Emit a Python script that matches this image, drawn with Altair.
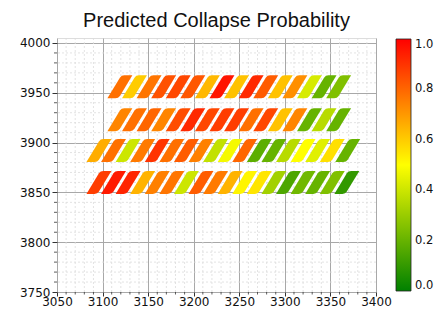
import altair as alt
import pandas as pd

title_text = "Predicted Collapse Probability"

# row centre heights (data units)
row_y = [3956, 3923, 3892, 3860]

row1_x = [3119, 3135, 3151, 3167, 3183, 3199, 3215, 3231, 3247, 3263, 3279, 3295, 3311, 3327, 3343, 3359]
row1_p = [0.78, 0.60, 0.77, 0.84, 0.86, 0.83, 0.64, 0.96, 0.62, 0.92, 0.82, 0.62, 0.72, 0.42, 0.20, 0.25]

row2_x = [3119, 3135, 3151, 3167, 3183, 3199, 3215, 3231, 3247, 3263, 3279, 3295, 3311, 3327, 3343, 3359]
row2_p = [0.74, 0.78, 0.80, 0.74, 0.85, 0.92, 0.86, 0.88, 0.88, 0.78, 0.86, 0.62, 0.74, 0.20, 0.36, 0.20]

row3_x = [3096, 3112, 3128, 3144, 3160, 3176, 3192, 3208, 3224, 3240, 3256, 3272, 3288, 3304, 3320, 3336, 3352, 3369]
row3_p = [0.66, 0.78, 0.40, 0.76, 0.90, 0.78, 0.82, 0.75, 0.38, 0.48, 0.80, 0.18, 0.20, 0.36, 0.50, 0.44, 0.56, 0.20]

row4_x = [3096, 3112, 3128, 3144, 3160, 3176, 3192, 3208, 3224, 3240, 3256, 3272, 3288, 3304, 3320, 3336, 3352, 3368]
row4_p = [0.88, 0.95, 0.93, 0.65, 0.75, 0.77, 0.40, 0.82, 0.76, 0.65, 0.52, 0.55, 0.32, 0.15, 0.22, 0.20, 0.25, 0.10]

x_ticks = [3050, 3100, 3150, 3200, 3250, 3300, 3350, 3400]
y_ticks = [3750, 3800, 3850, 3900, 3950, 4000]
x_minor = [v for v in range(3060, 3400, 10) if v % 50 != 0]
y_minor = [v for v in range(3760, 4005, 10) if v % 50 != 0]
cbar_ticks = [0.0, 0.2, 0.4, 0.6, 0.8, 1.0]

rows = []
for yy, xs, ps in zip(row_y, [row1_x, row2_x, row3_x, row4_x], [row1_p, row2_p, row3_p, row4_p]):
    for xx, pp in zip(xs, ps):
        rows.append({"x": xx, "y": yy, "p": pp})
df = pd.DataFrame(rows)

W, H = 319, 254
xscale = alt.Scale(domain=[3050, 3400], nice=False, zero=False)
yscale = alt.Scale(domain=[3750, 4005], nice=False, zero=False)

FONT = "DejaVu Sans"
SHAPE = ("M -0.96 0.885 L -0.34 0.885 Q -0.114 0.885 0.0 0.7 L 0.96 -0.885 "
         "L 0.34 -0.885 Q 0.114 -0.885 0.0 -0.7 Z")

x_axis = alt.Axis(values=x_ticks, format="d", grid=True, gridColor="#a8a8a8",
                  gridWidth=1, tickSize=4, tickColor="#333333", domain=False,
                  labelFont=FONT, labelFontSize=12, labelColor="#111111",
                  labelPadding=0, labelFlush=False)
y_axis = alt.Axis(values=y_ticks, format="d", grid=True, gridColor="#a8a8a8",
                  gridWidth=1, tickSize=5, tickColor="#333333", domain=False,
                  labelFont=FONT, labelFontSize=12, labelColor="#111111",
                  labelPadding=2, labelFlush=False)

X = lambda f: alt.X(f, scale=xscale, title=None, axis=x_axis)
Y = lambda f: alt.Y(f, scale=yscale, title=None, axis=y_axis)

minor_x = alt.Chart(pd.DataFrame({"v": x_minor})).mark_rule(
    color="#dcdcdc", strokeWidth=0.8, strokeDash=[2, 2]
).encode(x=X("v:Q"))

minor_y = alt.Chart(pd.DataFrame({"v": y_minor})).mark_rule(
    color="#dcdcdc", strokeWidth=0.8, strokeDash=[2, 2]
).encode(y=Y("v:Q"))

tick_x = alt.Chart(pd.DataFrame({"v": x_minor})).mark_rule(
    color="#333333", strokeWidth=0.8
).encode(x=X("v:Q"), y=alt.value(H), y2=alt.value(H + 2.5))

tick_y = alt.Chart(pd.DataFrame({"v": y_minor})).mark_rule(
    color="#333333", strokeWidth=0.8
).encode(y=Y("v:Q"), x=alt.value(0), x2=alt.value(-3))

shapes = alt.Chart(df).mark_point(shape=SHAPE, filled=True, size=676, opacity=1).encode(
    x=X("x:Q"),
    y=Y("y:Q"),
    color=alt.Color("p:Q",
                    scale=alt.Scale(domain=[0, 0.5, 1], range=["#008000", "#ffff00", "#ff0000"],
                                    interpolate="rgb"),
                    legend=alt.Legend(title=None, orient="none", legendX=W + 20, legendY=1,
                                      direction="vertical", gradientLength=252,
                                      gradientThickness=15, values=cbar_ticks, format=".1f",
                                      labelFont=FONT, labelFontSize=11.5, labelColor="#111111",
                                      labelOffset=4, labelBaseline="middle",
                                      gradientStrokeColor="#222222", gradientStrokeWidth=0.8)),
)

chart = alt.layer(minor_x, minor_y, tick_x, tick_y, shapes).properties(
    width=W, height=H,
    title=alt.Title(title_text, font="Liberation Sans", fontSize=20, fontWeight="normal",
                    color="#111111", anchor="middle", frame="group", offset=6),
    autosize=alt.AutoSizeParams(type="none"),
    padding={"left": 49, "top": 30, "right": 58, "bottom": 17},
).configure_view(stroke="#222222", strokeWidth=1).configure(background="white")

chart.save("out.html", embed_options={"renderer": "svg", "actions": False})
